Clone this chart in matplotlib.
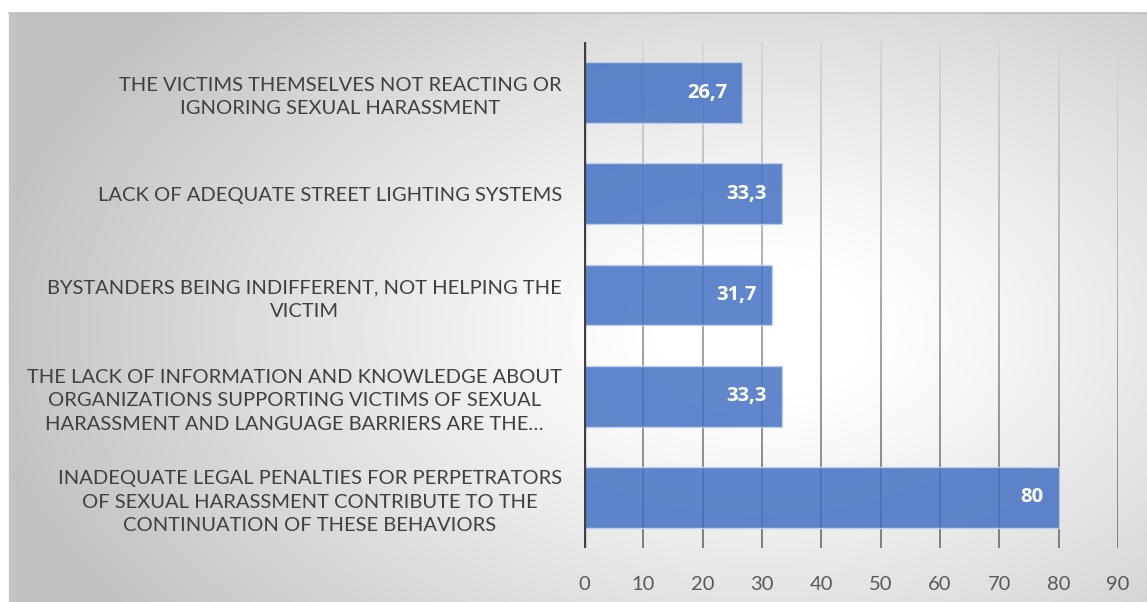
import numpy as np
import matplotlib
matplotlib.use("Agg")
import matplotlib.pyplot as plt
from matplotlib.collections import LineCollection
from matplotlib.colors import to_rgb

categories = [
    "THE VICTIMS THEMSELVES NOT REACTING OR\nIGNORING SEXUAL HARASSMENT",
    "LACK OF ADEQUATE STREET LIGHTING SYSTEMS",
    "BYSTANDERS BEING INDIFFERENT, NOT HELPING THE\nVICTIM",
    "THE LACK OF INFORMATION AND KNOWLEDGE ABOUT\nORGANIZATIONS SUPPORTING VICTIMS OF SEXUAL\nHARASSMENT AND LANGUAGE BARRIERS ARE THE…",
    "INADEQUATE LEGAL PENALTIES FOR PERPETRATORS\nOF SEXUAL HARASSMENT CONTRIBUTE TO THE\nCONTINUATION OF THESE BEHAVIORS",
]
values = [26.7, 33.3, 31.7, 33.3, 80]
value_labels = ["26,7", "33,3", "31,7", "33,3", "80"]
x_ticks = list(range(0, 100, 10))

plt.rcParams["font.family"] = ["Lato", "DejaVu Sans"]

W, H, DPI = 1147, 602, 100
fig = plt.figure(figsize=(W / DPI, H / DPI), dpi=DPI)
fig.patch.set_facecolor("white")

# Radial grey-to-white backdrop of the chart area
bg = fig.add_axes([0, 0, 1, 1], zorder=0)
bg.set_xlim(0, W)
bg.set_ylim(H, 0)
bg.axis("off")
x0, y0 = 9, 13
yy, xx = np.mgrid[y0:H, x0:W]
cx, cy = 760, 330
d = np.sqrt(((xx - cx) / 900.0) ** 2 + ((yy - cy) / 560.0) ** 2)
t = np.clip((d - 0.12) / 0.75, 0, 1) ** 1.1
light, dark = 1.0, 0.76
g = light - (light - dark) * t
img = np.dstack([g, g, g])
bg.imshow(img, extent=(x0, W, H, y0), interpolation="bilinear", aspect="auto")
bg.plot([x0, W], [y0, y0], color="#bdbdbd", lw=1.2)
bg.plot([x0, x0], [y0, H], color="#c8c8c8", lw=1.0)

# Plot area
left, right, top, bottom = 584, 1118, 42, 548
ax = fig.add_axes([left / W, 1 - bottom / H, (right - left) / W, (bottom - top) / H], zorder=1)
ax.patch.set_alpha(0)
ax.set_xlim(0, 90)
ax.set_ylim(len(categories) - 0.5, -0.5)

# Vertical gridlines, fading lighter toward the top
nseg = 60
ys = np.linspace(-0.5, len(categories) - 0.5, nseg + 1)
c_top, c_bot = np.array(to_rgb("#d6d6d6")), np.array(to_rgb("#7c7c7c"))
for xv in x_ticks[1:]:
    segs = [[(xv, ys[i]), (xv, ys[i + 1])] for i in range(nseg)]
    frac = (ys[:-1] + 0.5) / len(categories)
    cols = [tuple(c_top + (c_bot - c_top) * f) for f in frac]
    ax.add_collection(LineCollection(segs, colors=cols, linewidths=1.4, zorder=0.5))

ypos = np.arange(len(categories))
ax.barh(ypos, values, height=0.6, color="#4472C4", alpha=0.85,
        edgecolor="#c5d3ee", linewidth=1.0, zorder=2)

for y, v, lab in zip(ypos, values, value_labels):
    ax.annotate(lab, (v, y), xytext=(-11, 0), textcoords="offset points",
                ha="right", va="center", color="white", fontsize=14.5,
                fontweight="bold", family=["Open Sans", "DejaVu Sans"], zorder=3)

ax.axvline(0, color="#3f3f3f", lw=2.4, zorder=4)

for s in ax.spines.values():
    s.set_visible(False)

ax.set_xticks(x_ticks)
ax.set_xticklabels([str(v) for v in x_ticks], fontsize=14.5, color="#595959")
ax.tick_params(axis="x", length=0, pad=20)
ax.set_yticks(ypos)
ax.set_yticklabels(categories, fontsize=14.5, color="#404040",
                   multialignment="center", linespacing=1.45)
ax.tick_params(axis="y", length=0, pad=16)

fig.savefig("out.png", dpi=DPI)
